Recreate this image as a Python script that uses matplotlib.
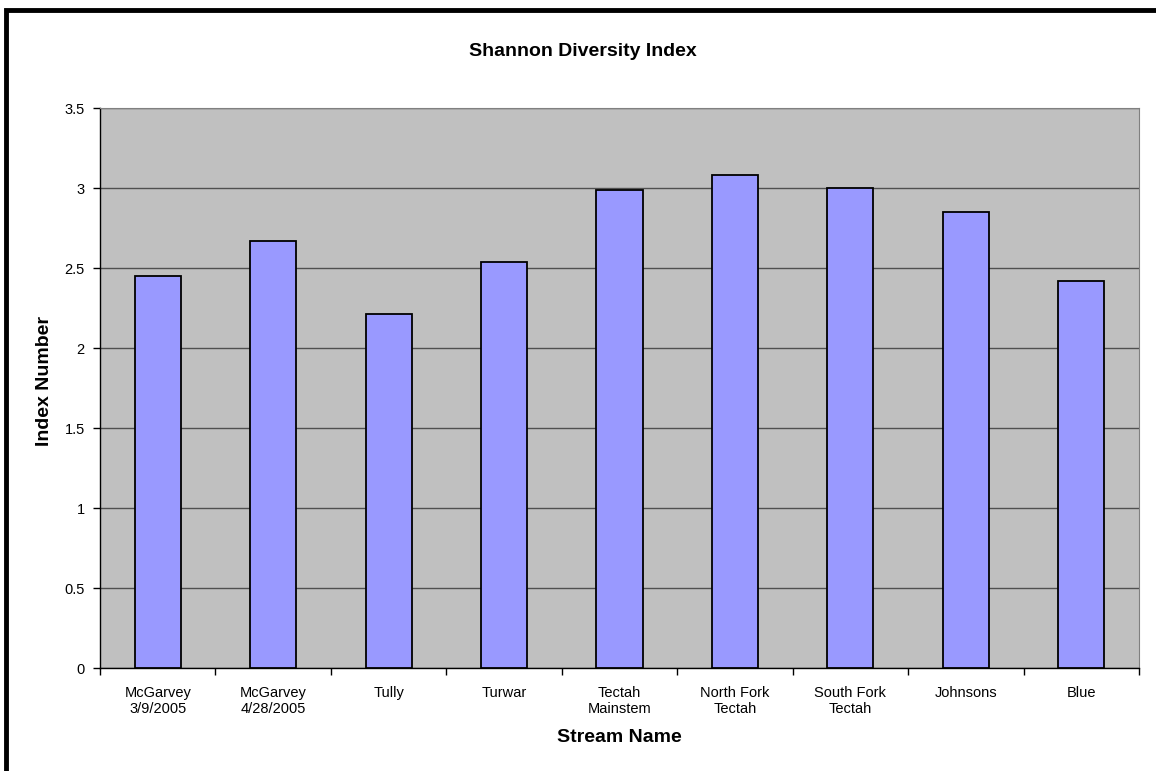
import matplotlib.pyplot as plt
from matplotlib.patches import Rectangle
import numpy as np

# data
streams = ['McGarvey\n3/9/2005', 'McGarvey\n4/28/2005', 'Tully', 'Turwar',
           'Tectah\nMainstem', 'North Fork\nTectah', 'South Fork\nTectah',
           'Johnsons', 'Blue']
shannon_index = [2.45, 2.67, 2.21, 2.54, 2.99, 3.08, 3.00, 2.85, 2.42]
y_ticks = [0, 0.5, 1, 1.5, 2, 2.5, 3, 3.5]

plt.rcParams['font.family'] = ['Liberation Sans', 'DejaVu Sans']

W, H = 1156, 771
fig = plt.figure(figsize=(W / 100, H / 100), dpi=100)
ax = fig.add_axes([100 / W, 1 - 668 / H, 1039 / W, 560 / H])

x = np.arange(len(streams))
ax.set_facecolor('#C0C0C0')
ax.bar(x, shannon_index, width=0.4, color='#9999FF', edgecolor='black',
       linewidth=1.3, zorder=3)

ax.set_xlim(-0.5, len(streams) - 0.5)
ax.set_ylim(0, 3.5)
ax.set_yticks(y_ticks)
ax.set_yticklabels([f'{v:g}' for v in y_ticks], fontsize=10.5)
ax.yaxis.grid(True, color='#505050', linewidth=1.0, zorder=0)
ax.set_axisbelow(True)

# category labels at centres, tick marks at the boundaries
ax.set_xticks(x)
ax.set_xticklabels(streams, fontsize=10.5)
ax.tick_params(axis='x', which='major', length=0, pad=13)
ax.set_xticks(np.arange(len(streams) + 1) - 0.5, minor=True)
ax.tick_params(axis='x', which='minor', length=5, width=1, direction='out')
ax.tick_params(axis='y', length=5, width=1, direction='out', pad=6)

for side in ['top', 'right']:
    ax.spines[side].set_color('#808080')
for side in ['left', 'bottom']:
    ax.spines[side].set_color('black')
    ax.spines[side].set_linewidth(1.0)

ax.set_xlabel('Stream Name', fontsize=14, fontweight='bold', va='center')
ax.xaxis.set_label_coords(0.5, (668 - 737) / 560)
ax.set_ylabel('Index Number', fontsize=14, fontweight='bold', va='center')
ax.yaxis.set_label_coords((45 - 100) / 1039, (668 - 381) / 560)
fig.text(583 / W, 1 - 52 / H, 'Shannon Diversity Index', fontsize=14,
         fontweight='bold', ha='center', va='center')

# thick chart frame
fig.patches.append(Rectangle((5.5 / W, -0.05), 1.2, 1 - 10 / H + 0.05,
                             transform=fig.transFigure, fill=False,
                             edgecolor='black', linewidth=3.5))

fig.savefig('out.png', dpi=100)
